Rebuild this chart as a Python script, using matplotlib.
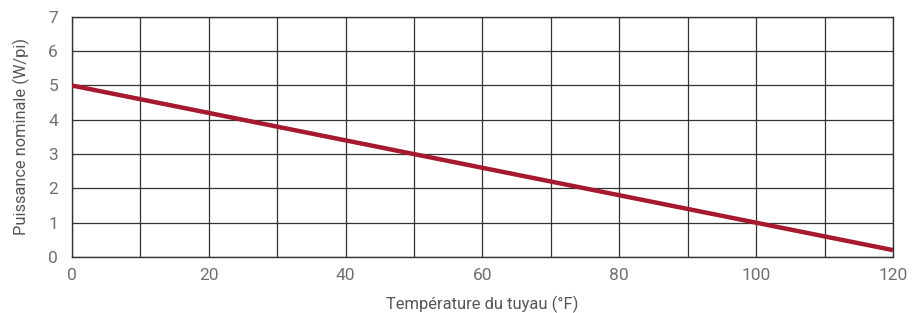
import matplotlib
matplotlib.use('Agg')
from matplotlib import pyplot as plt

temperature = [0, 120]
power = [5.0, 0.2]

x_ticks = [0, 20, 40, 60, 80, 100, 120]
x_grid = list(range(0, 121, 10))
y_ticks = [0, 1, 2, 3, 4, 5, 6, 7]

plt.rcParams['font.family'] = ['Roboto', 'DejaVu Sans']

fig = plt.figure(figsize=(9.22, 3.13), dpi=100)
ax = fig.add_axes([0.078, 0.179, 0.8905, 0.767])

ax.set_xlim(0, 120)
ax.set_ylim(0, 7)
ax.set_xticks(x_grid, minor=True)
ax.set_xticks(x_ticks)
ax.set_yticks(y_ticks)
ax.grid(which='both', axis='x', color='#333333', linewidth=0.9)
ax.grid(which='major', axis='y', color='#333333', linewidth=0.9)
ax.set_axisbelow(True)

ax.plot(temperature, power, color='#A6192E', linewidth=3.2, solid_capstyle='butt', zorder=3)

for s in ax.spines.values():
    s.set_color('#333333')
    s.set_linewidth(1.0)

ax.tick_params(which='both', length=0, labelsize=12.5, colors='#707070', pad=8)
ax.tick_params(axis='y', pad=10)
ax.set_xlabel('Température du tuyau (°F)', fontsize=11.9, color='#555555', labelpad=9)
ax.set_ylabel('Puissance nominale (W/pi)', fontsize=11.8, color='#555555', labelpad=13)

fig.savefig('out.png', dpi=100)
